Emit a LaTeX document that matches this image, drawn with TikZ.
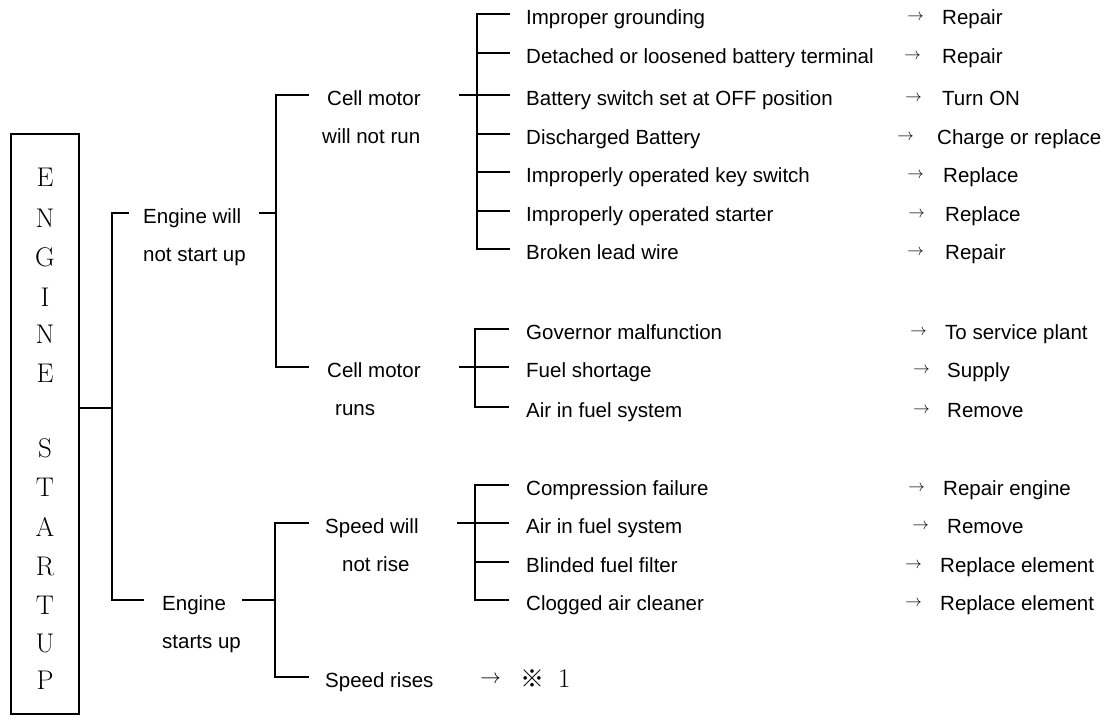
\documentclass[tikz,border=0pt]{standalone}
\usepackage{fontspec}
\newfontfamily\sansf{Liberation Sans}
\newfontfamily\cjkf{Noto Sans CJK JP}
\begin{document}
\begin{tikzpicture}[x=1pt,y=-1pt,
  lbl/.style={font=\sansf\fontsize{20.5}{24}\selectfont, anchor=base west, inner sep=0pt},
  arrowglyph/.style={anchor=base west, inner sep=0pt, scale=1.65},
  letter/.style={font=\fontsize{27}{30}\selectfont, anchor=center, inner sep=0pt},
  ln/.style={line width=1.3pt, line cap=rect},
  boxframe/.style={draw, line width=1.6pt, inner sep=0pt, anchor=north west, minimum width=68pt, minimum height=580pt}]
\useasboundingbox (0,0) rectangle (1112,716);

% title box
\node[boxframe] (box) at (10,133) {};
\foreach \ch/\y [count=\i] in {E/177,N/218,G/257,I/297,N/334,E/373,S/448,T/487,A/527,R/566,T/605,U/643,P/680}
  \node[letter] (L\i) at (45,\y) {\ch};

% main junction
\coordinate (r0) at (box.east |- 0,408);
\coordinate (v0) at (112,408);
\coordinate (v0t) at (112,213);
\coordinate (v0b) at (112,600);
\draw[ln] (r0) -- (v0);
\draw[ln] (v0t) -- (v0b);

% Engine will not start up
\coordinate (a0e) at (128,213);
\draw[ln] (v0t) -- (a0e);
\node[lbl] (a1) at (143,223) {Engine will};
\node[lbl] (a2) at (143,261) {not start up};
\coordinate (a0s) at (260,213);
\coordinate (v1m) at (276,213);
\draw[ln] (a0s) -- (v1m);
\coordinate (v1t) at (276,95);
\coordinate (v1b) at (276,367);
\draw[ln] (v1t) -- (v1b);

% Cell motor will not run
\coordinate (b0e) at (308,95);
\draw[ln] (v1t) -- (b0e);
\node[lbl] (b1) at (327,105) {Cell motor};
\node[lbl] (b2) at (322,143) {will not run};
\coordinate (b0s) at (460,95);
\coordinate (v2m) at (477,95);
\draw[ln] (b0s) -- (v2m);
\coordinate (v2t) at (477,14);
\coordinate (v2b) at (477,249);
\draw[ln] (v2t) -- (v2b);
\foreach \y/\c/\ax/\tx/\r [count=\i] in {
  14/Improper grounding/907/942/Repair,
  53/Detached or loosened battery terminal/904/942/Repair,
  95/Battery switch set at OFF position/905/942/Turn ON,
  134/Discharged Battery/897/937/Charge or replace,
  172/Improperly operated key switch/907/943/Replace,
  211/Improperly operated starter/908/945/Replace,
  249/Broken lead wire/907/945/Repair}{
  \coordinate (c1s\i) at (477,\y);
  \coordinate (c1e\i) at (509,\y);
  \draw[ln] (c1s\i) -- (c1e\i);
  \node[lbl] (c1t\i) at (526,\y+10) {\c};
  \node[arrowglyph] (c1a\i) at (\ax,\y+6) {$\rightarrow$};
  \node[lbl] (c1r\i) at (\tx,\y+10) {\r};
}

% Cell motor runs
\coordinate (d0e) at (308,367);
\draw[ln] (v1b) -- (d0e);
\node[lbl] (d1) at (327,377) {Cell motor};
\node[lbl] (d2) at (335,415) {runs};
\coordinate (d0s) at (460,367);
\coordinate (v3m) at (475,367);
\draw[ln] (d0s) -- (v3m);
\coordinate (v3t) at (475,329);
\coordinate (v3b) at (475,407);
\draw[ln] (v3t) -- (v3b);
\foreach \y/\c/\ax/\tx/\r [count=\i] in {
  329/Governor malfunction/910/945/To service plant,
  367/Fuel shortage/913/947/Supply,
  407/Air in fuel system/913/947/Remove}{
  \coordinate (c2s\i) at (475,\y);
  \coordinate (c2e\i) at (508,\y);
  \draw[ln] (c2s\i) -- (c2e\i);
  \node[lbl] (c2t\i) at (526,\y+10) {\c};
  \node[arrowglyph] (c2a\i) at (\ax,\y+6) {$\rightarrow$};
  \node[lbl] (c2r\i) at (\tx,\y+10) {\r};
}

% Engine starts up
\coordinate (e0e) at (143,600);
\draw[ln] (v0b) -- (e0e);
\node[lbl] (e1) at (162,610) {Engine};
\node[lbl] (e2) at (162,648) {starts up};
\coordinate (e0s) at (243,600);
\coordinate (v4m) at (275,600);
\draw[ln] (e0s) -- (v4m);
\coordinate (v4t) at (275,523);
\coordinate (v4b) at (275,677);
\draw[ln] (v4t) -- (v4b);

% Speed will not rise
\coordinate (f0e) at (308,523);
\draw[ln] (v4t) -- (f0e);
\node[lbl] (f1) at (325,533) {Speed will};
\node[lbl] (f2) at (342,571) {not rise};
\coordinate (f0s) at (458,523);
\coordinate (v5m) at (475,523);
\draw[ln] (f0s) -- (v5m);
\coordinate (v5t) at (475,485);
\coordinate (v5b) at (475,600);
\draw[ln] (v5t) -- (v5b);
\foreach \y/\c/\ax/\tx/\r [count=\i] in {
  485/Compression failure/908/943/Repair engine,
  523/Air in fuel system/912/947/Remove,
  562/Blinded fuel filter/905/940/Replace element,
  600/Clogged air cleaner/905/940/Replace element}{
  \coordinate (c3s\i) at (475,\y);
  \coordinate (c3e\i) at (508,\y);
  \draw[ln] (c3s\i) -- (c3e\i);
  \node[lbl] (c3t\i) at (526,\y+10) {\c};
  \node[arrowglyph] (c3a\i) at (\ax,\y+6) {$\rightarrow$};
  \node[lbl] (c3r\i) at (\tx,\y+10) {\r};
}

% Speed rises
\coordinate (g0e) at (308,677);
\draw[ln] (v4b) -- (g0e);
\node[lbl] (g1) at (325,687) {Speed rises};
\node[arrowglyph, scale=1.25] (g2) at (480,683) {$\rightarrow$};
\node[anchor=base west, inner sep=0pt] (g3) at (520,687) {{\cjkf\fontsize{24}{26}\selectfont ※}\hspace{14pt}{\fontsize{27}{30}\selectfont 1}};
\end{tikzpicture}
\end{document}
